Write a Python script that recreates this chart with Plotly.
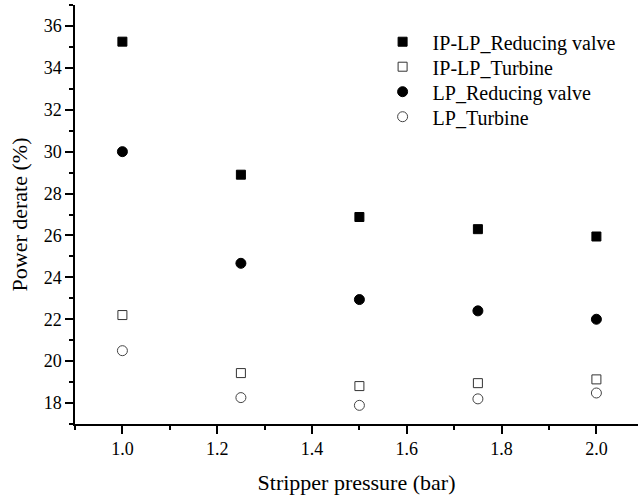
import plotly.graph_objects as go

pressure = [1.0, 1.25, 1.5, 1.75, 2.0]
iplp_valve = [35.25, 28.9, 26.88, 26.3, 25.95]
iplp_turbine = [22.2, 19.43, 18.81, 18.95, 19.13]
lp_valve = [30.0, 24.67, 22.94, 22.4, 22.0]
lp_turbine = [20.5, 18.26, 17.89, 18.2, 18.48]

names = ["IP-LP_Reducing valve", "IP-LP_Turbine", "LP_Reducing valve", "LP_Turbine"]
series = [iplp_valve, iplp_turbine, lp_valve, lp_turbine]
symbols = ["square", "square-open", "circle", "circle-open"]
sizes = [9, 9, 10, 10]
colors = ["#000000", "#333333", "#000000", "#444444"]
legend_ids = ["legend", "legend2", "legend3", "legend4"]
legend_y = [0.9124, 0.8527, 0.7931, 0.7334]

FONT = "Times New Roman, DejaVu Serif, serif"

fig = go.Figure()
for n, s, sym, sz, c, lg in zip(names, series, symbols, sizes, colors, legend_ids):
    fig.add_trace(go.Scatter(
        x=pressure, y=s, mode="markers", name=n, legend=lg,
        marker=dict(symbol=sym, size=sz, color=c, line=dict(width=1, color=c)),
    ))

xr = [0.9, 0.9 + 563 / 474]
yr = [17, 37]

legends = {}
for lg, ly in zip(legend_ids, legend_y):
    legends[lg] = dict(x=0.5286, y=ly, xanchor="left", yanchor="middle",
                       font=dict(family=FONT, size=20, color="black"),
                       itemwidth=50, bgcolor="rgba(0,0,0,0)")

fig.update_layout(
    width=638, height=499,
    margin=dict(l=75, r=0, t=5, b=75),
    paper_bgcolor="white", plot_bgcolor="white",
    font=dict(family=FONT, color="black", size=18),
    showlegend=True,
    **legends,
    xaxis=dict(range=xr, tickvals=[1.0, 1.2, 1.4, 1.6, 1.8, 2.0],
               ticktext=["1.0", "1.2", "1.4", "1.6", "1.8", "2.0"],
               ticks="outside", ticklen=8, tickwidth=1.5, tickcolor="black",
               minor=dict(dtick=0.1, tick0=0.9, ticks="outside", ticklen=4, tickwidth=1.5, tickcolor="black"),
               showline=True, linecolor="black", linewidth=1.5,
               showgrid=False, zeroline=False,
               tickfont=dict(family=FONT, size=18, color="black"),
               title=dict(text="Stripper pressure (bar)", font=dict(family=FONT, size=22, color="black"), standoff=16)),
    yaxis=dict(range=yr, tickvals=[18, 20, 22, 24, 26, 28, 30, 32, 34, 36],
               ticks="outside", ticklen=8, tickwidth=1.5, tickcolor="black",
               minor=dict(dtick=1, tick0=17, ticks="outside", ticklen=4, tickwidth=1.5, tickcolor="black"),
               showline=True, linecolor="black", linewidth=1.5,
               showgrid=False, zeroline=False,
               tickfont=dict(family=FONT, size=18, color="black"),
               title=dict(text="Power derate (%)", font=dict(family=FONT, size=22, color="black"), standoff=10)),
    xaxis2=dict(range=xr, overlaying="x", side="top", anchor="y",
                tickvals=[1.0, 1.2, 1.4, 1.6, 1.8, 2.0], showticklabels=False,
                ticks="inside", ticklen=8, tickwidth=1.5, tickcolor="black",
                showline=True, linecolor="black", linewidth=1.5,
                showgrid=False, zeroline=False),
    yaxis2=dict(range=yr, overlaying="y", side="right", anchor="x",
                tickvals=[18, 20, 22, 24, 26, 28, 30, 32, 34, 36], showticklabels=False,
                ticks="inside", ticklen=4, tickwidth=1.5, tickcolor="black",
                showline=False, showgrid=False, zeroline=False),
)

fig.write_html("out.html")
